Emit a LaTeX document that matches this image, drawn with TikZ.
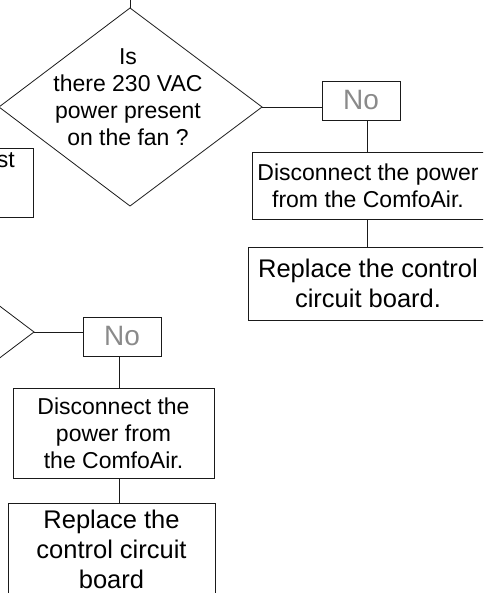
\documentclass[tikz,border=0pt]{standalone}
\usepackage{fontspec}
\setmainfont{Liberation Sans}
\usepackage{xcolor}
\usepackage{tikz}
\definecolor{FCLine}{HTML}{1A1A1A}
\definecolor{FCGrey}{HTML}{8A8A8A}

\tikzset{
  fcline/.style={FCLine,line width=0.8pt},
  fcbox/.style={draw=FCLine,line width=0.8pt,inner sep=0pt,align=center,font=\fontsize{23}{27}\selectfont},
  fcbig/.style={fcbox,font=\fontsize{25.5}{30}\selectfont},
  fcno/.style={fcbox,text=FCGrey,font=\fontsize{28}{32}\selectfont,minimum width=78pt,minimum height=39pt}
}

\begin{document}
\begin{tikzpicture}[x=1pt,y=-1pt]
\path[use as bounding box] (0,0) rectangle (483,593);
\clip (0,0) rectangle (483,593);
\coordinate (q1t) at (130,8);
\coordinate (q1r) at (262,107);
\coordinate (q1b) at (130,206);
\coordinate (q1l) at (-1,107);
\coordinate (in1) at (130,-10);
\draw[fcline] (q1t) -- (q1r) -- (q1b) -- (q1l) -- cycle;
\draw[fcline] (in1) -- (q1t);
\node[align=center,inner sep=0pt,font=\fontsize{23}{27}\selectfont] (q1) at (128,97) {Is\\there 230 VAC\\power present\\on the fan ?};
\node[fcbox,minimum width=134pt,minimum height=69pt,anchor=east] (s1) at (34,182.5) {};
\node[anchor=east,inner sep=0pt,font=\fontsize{23}{27}\selectfont] (s1t) at (15,160) {st};
\node[fcno] (no1) at (361,100.5) {No};
\node[fcbox,minimum width=232pt,minimum height=67pt] (dis1) at (368,185.5) {Disconnect the power\\from the ComfoAir.};
\node[fcbig,minimum width=240pt,minimum height=73pt] (rep1) at (368,283.5) {Replace the control\\circuit board.};
\draw[fcline] (q1r) -- (q1r -| no1.west);
\draw[fcline] ([xshift=6.5pt]no1.south) coordinate (v1) -- (v1 |- dis1.north);
\draw[fcline] (v1 |- dis1.south) -- (v1 |- rep1.north);
\coordinate (q2r) at (34,332);
\draw[fcline] (-97,233) -- (q2r) -- (-97,431);
\node[fcno] (no2) at (122,336.5) {No};
\node[fcbox,minimum width=201pt,minimum height=90pt] (dis2) at (113.5,433) {Disconnect the\\power from\\the ComfoAir.};
\node[fcbig,minimum width=207pt,minimum height=92pt] (rep2) at (111.5,549) {Replace the\\control circuit\\board};
\draw[fcline] (q2r) -- (q2r -| no2.west);
\draw[fcline] ([xshift=-3pt]no2.south) coordinate (v2) -- (v2 |- dis2.north);
\draw[fcline] (v2 |- dis2.south) -- (v2 |- rep2.north);
\end{tikzpicture}
\end{document}
